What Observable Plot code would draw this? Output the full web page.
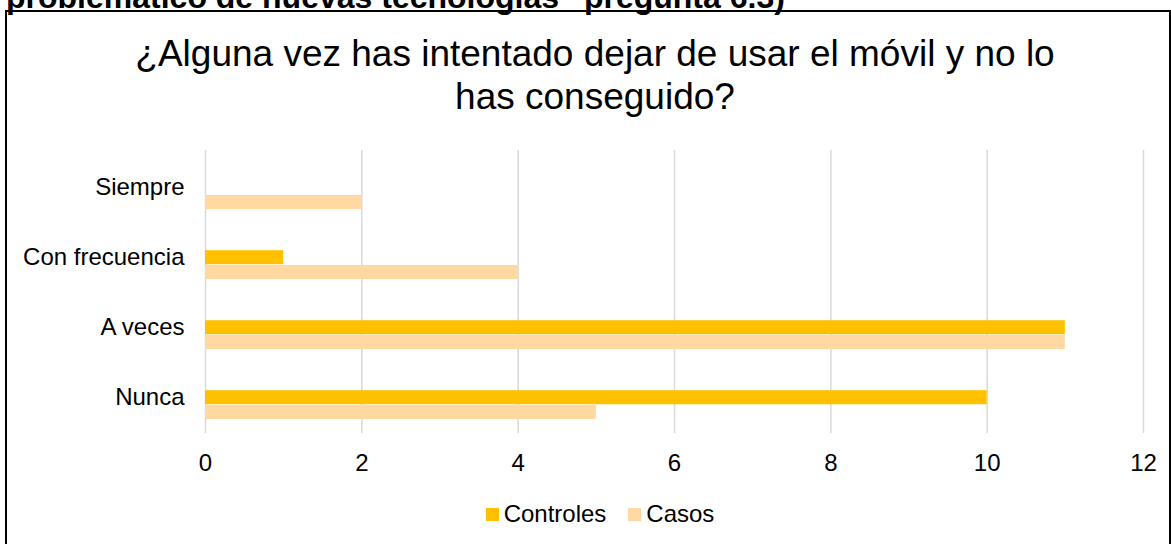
<!DOCTYPE html>
<html><head><meta charset="utf-8">
<script src="https://cdn.jsdelivr.net/npm/d3@7"></script>
<script src="https://cdn.jsdelivr.net/npm/@observablehq/plot@0.6"></script>
<style>
html,body{margin:0;padding:0;background:#fff;overflow:hidden;}
body{width:1171px;height:544px;position:relative;font-family:"Liberation Sans",Arial,sans-serif;color:#000;}
#topline{position:absolute;left:6px;top:-18px;font-weight:bold;font-size:32px;line-height:30px;white-space:nowrap;}
#frame{position:absolute;left:5px;top:10px;width:1166px;height:600px;border:2px solid #000;box-sizing:border-box;}
#title{position:absolute;left:95px;width:1000px;top:31.7px;text-align:center;font-size:37px;line-height:43px;}
#chart{position:absolute;left:0;top:130px;}
#legend{position:absolute;left:0;width:1200px;top:499px;height:30px;display:flex;justify-content:center;align-items:center;font-size:24px;line-height:30px;}
.item{display:flex;align-items:center;margin:0 11px;}
.sw{width:13px;height:13px;margin-right:5px;}
</style></head>
<body>
<div id="topline">problemático de nuevas tecnologías” pregunta 6.3)</div>
<div id="frame"></div>
<div id="title">¿Alguna vez has intentado dejar de usar el móvil y no lo<br>has conseguido?</div>
<div id="chart"></div>
<div id="legend"></div>
<script>
const categories = ["Siempre", "Con frecuencia", "A veces", "Nunca"];
const controles = [0, 1, 11, 10];
const casos = [2, 4, 11, 5];
const xTicks = [0, 2, 4, 6, 8, 10, 12];
const series = ["Controles", "Casos"];
const colors = ["#FFC000", "#FFD9A1"];

const dataControles = categories.map((c, i) => ({cat: c, v: controles[i]}));
const dataCasos = categories.map((c, i) => ({cat: c, v: casos[i]}));

const chart = Plot.plot({
  width: 1171,
  height: 360,
  marginLeft: 205,
  marginRight: 28,
  marginTop: 20,
  marginBottom: 57,
  style: {fontFamily: '"Liberation Sans", Arial, sans-serif', fontSize: "24px", color: "#000", background: "transparent", overflow: "visible"},
  x: {domain: [0, 12], ticks: xTicks, tickSize: 0, tickPadding: 20, label: null},
  y: {domain: categories, padding: 0, tickSize: 0, tickPadding: 21, label: null},
  marks: [
    Plot.gridX(xTicks, {stroke: "#d9d9d9", strokeOpacity: 1, strokeWidth: 1.5}),
    Plot.barX(dataControles, {x: "v", y: "cat", fill: colors[0], insetTop: 28.2, insetBottom: 27.75}),
    Plot.barX(dataCasos, {x: "v", y: "cat", fill: colors[1], insetTop: 43, insetBottom: 12.95})
  ]
});
document.getElementById("chart").appendChild(chart);

const legend = d3.select("#legend");
series.forEach((s, i) => {
  const it = legend.append("div").attr("class", "item");
  it.append("div").attr("class", "sw").style("background", colors[i]);
  it.append("span").text(s);
});
</script>
</body></html>
